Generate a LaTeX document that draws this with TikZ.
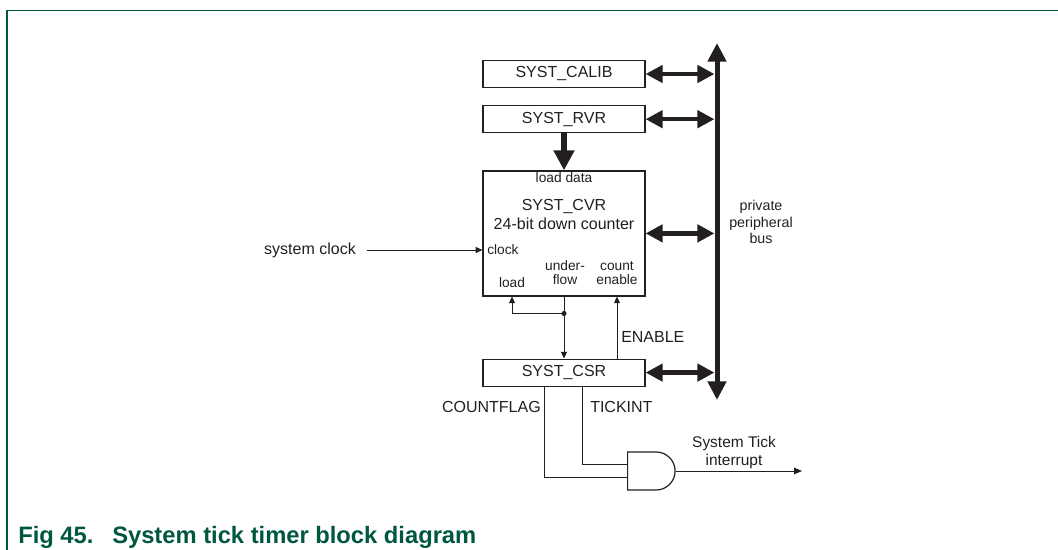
\documentclass[tikz,border=0pt]{standalone}
\usepackage{fontspec}
\setmainfont{Liberation Sans}
\usepackage{tikz}
\usetikzlibrary{arrows.meta,positioning,calc,shapes.gates.logic.US}
\definecolor{nxpGreen}{HTML}{00573F}
\definecolor{ink}{HTML}{231F20}
\tikzset{
  reg/.style={draw=ink, line width=0.9pt, minimum width=121.5pt, minimum height=20.25pt,
    inner sep=0pt, font=\fontsize{12}{14}\selectfont, text=ink},
  lbl/.style={inner sep=0pt, align=center, text=ink, font=\fontsize{10.3}{10.5}\selectfont},
  sig/.style={inner sep=0pt, align=center, text=ink, font=\fontsize{12}{14}\selectfont},
  wire/.style={draw=ink, line width=0.75pt},
  sarrow/.style={-{Triangle[length=5pt, width=4.5pt]}},
}
\begin{document}
\begin{tikzpicture}[x=0.75pt, y=-0.75pt,
  bus/.style={draw=ink, line width=3.75pt,
    {Triangle[length=14pt, width=13.5pt]}-{Triangle[length=14pt, width=13.5pt]}},
  link/.style={draw=ink, line width=3.4pt, shorten >=1.9pt,
    {Triangle[length=12.75pt, width=12.75pt]}-{Triangle[length=12.75pt, width=12.75pt]}},
  load/.style={draw=ink, line width=4.5pt, -{Triangle[length=15pt, width=15pt]}},
  dot/.style={circle, fill=ink, inner sep=0pt, minimum size=3.8pt},
  gate/.style={and gate US, draw=ink, line width=0.9pt, logic gate inputs=nn,
    minimum width=34.5pt, minimum height=28.5pt, inner sep=0pt},
  frame/.style={draw=nxpGreen, line width=1.1pt},
  caption/.style={inner sep=0pt, text=nxpGreen, font=\fontsize{17.8}{20}\selectfont\bfseries}]
\useasboundingbox (0,0) rectangle (1058,550);
\draw[frame] (7,550) |- (1058,10.5);
% registers
\node[reg] (calib) at (564,74) {SYST\_CALIB};
\node[reg, below=12.75pt of calib] (rvr) {SYST\_RVR};
\node[reg, below=27.75pt of rvr, minimum height=93.75pt] (cvr) {};
\node[reg, below=46.5pt of cvr] (csr) {SYST\_CSR};
% counter inside
\node[lbl] (ldata) at (564,178) {load data};
\node[sig, font=\fontsize{12}{14.25}\selectfont] (cvrname) at (564,214) {SYST\_CVR\\24-bit down counter};
\node[lbl, anchor=west] (clk) at (487,250) {clock};
\node[lbl] (uflow) at (565,273) {under-\\flow};
\node[lbl] (cnten) at (617,273) {count\\enable};
\node[lbl] (ld) at (512,283) {load};
% bus
\coordinate (bustop) at (717,43);
\coordinate (busbot) at (717,400);
\draw[bus] (busbot) -- (bustop);
\node[lbl, font=\fontsize{10.7}{12.4}\selectfont] (buslbl) at (761,222) {private\\peripheral\\bus};
\foreach \n in {calib,rvr,cvr,csr} \draw[link] (\n.east) -- (\n.east -| bustop);
\draw[load] (rvr.south) -- (cvr.north);
% clock input
\node[sig] (sysclk) at (310,250) {system clock};
\draw[wire, sarrow] ([xshift=8pt]sysclk.east) -- (sysclk.east -| cvr.west);
% underflow, reload and enable
\draw[wire, sarrow] (cvr.south) -- (csr.north);
\node[dot] (tap) at ($(cvr.south)+(0,17)$) {};
\draw[wire, sarrow] (tap.center) -| (cvr.south -| ld);
\draw[wire, sarrow] (csr.north -| cnten) -- (cvr.south -| cnten);
\node[sig, anchor=west] (enable) at (621,337) {ENABLE};
% interrupt
\node[gate, anchor=west] (andg) at (627,471) {};
\coordinate (cfx) at ($(csr.south west)+(62,0)$);
\coordinate (tix) at ($(csr.south west)+(100,0)$);
\draw[wire] (cfx) |- (andg.input 2);
\draw[wire] (tix) |- (andg.input 1);
\node[sig, anchor=east] (cflag) at (541,407) {COUNTFLAG};
\node[sig, anchor=west] (tickint) at (590,407) {TICKINT};
\coordinate (tickout) at (802,471);
\draw[wire, -{Triangle[length=6pt, width=5pt]}] (andg.output) -- (andg.output -| tickout);
\node[sig, font=\fontsize{11.6}{13.5}\selectfont] (ticklbl) at (734,452) {System Tick\\interrupt};
% caption
\node[caption, anchor=west] (figno) at (18,537) {Fig 45.};
\node[caption, anchor=west] (figtitle) at (112,537) {System tick timer block diagram};
\end{tikzpicture}
\end{document}
